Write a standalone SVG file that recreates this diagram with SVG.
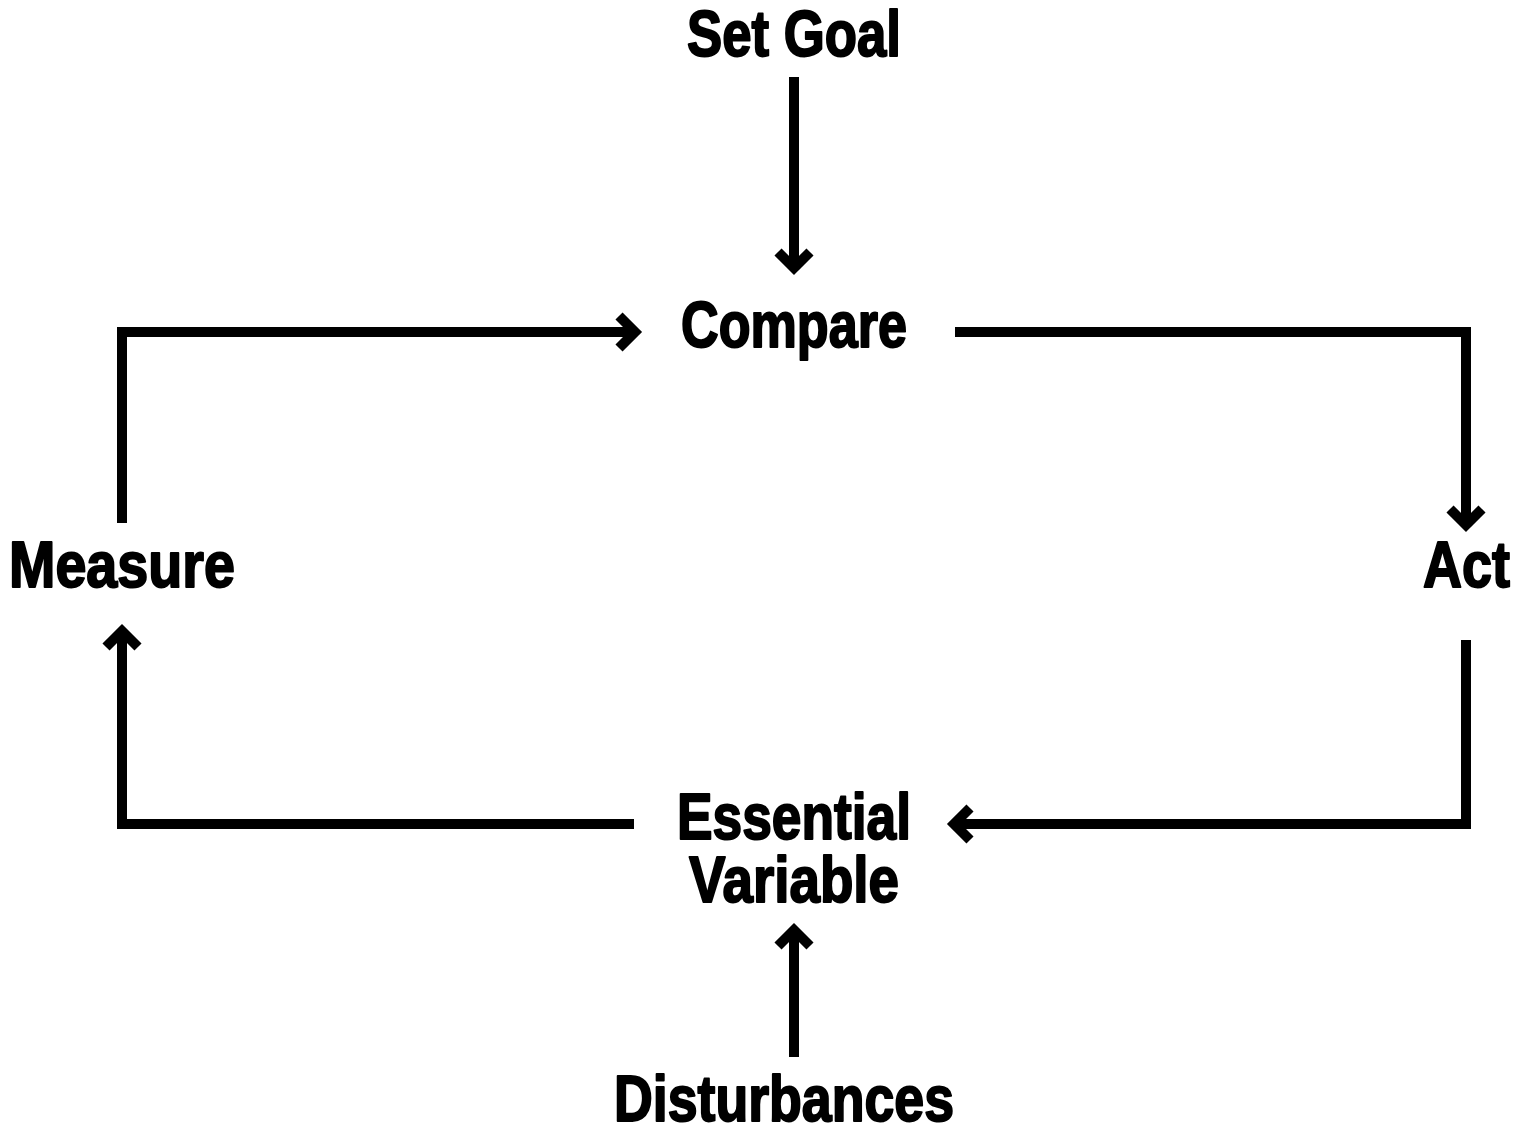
<svg xmlns="http://www.w3.org/2000/svg" width="1518" height="1129" viewBox="0 0 1518 1129">
  <style>
    .label { font-family: "Liberation Sans Narrow", "Liberation Sans", Arial, sans-serif; font-weight: bold; font-size: 64px; fill: #000; stroke: #000; stroke-width: 2; stroke-linejoin: round; }
    .wire { fill: none; stroke: #000; stroke-width: 10; stroke-linejoin: miter; stroke-linecap: butt; }
  </style>
  <defs>
    <!-- open chevron arrowhead, tip sits just past the path end -->
    <marker id="head" markerUnits="userSpaceOnUse" orient="auto" viewBox="-30 -25 40 50" refX="0" refY="0" markerWidth="40" markerHeight="50" overflow="visible">
      <path d="M -16 -16 L 0 0 L -16 16" fill="none" stroke="#000" stroke-width="10" stroke-linejoin="miter"/>
    </marker>
  </defs>

  <rect width="1518" height="1129" fill="#fff"/>

  <g id="connectors">
    <path class="wire" d="M 794 77 L 794 268" marker-end="url(#head)"/>
    <path class="wire" d="M 122 523 L 122 332 L 635 332" marker-end="url(#head)"/>
    <path class="wire" d="M 955 332 L 1466 332 L 1466 525" marker-end="url(#head)"/>
    <path class="wire" d="M 1466 640 L 1466 824 L 954 824" marker-end="url(#head)"/>
    <path class="wire" d="M 634 824 L 122 824 L 122 631" marker-end="url(#head)"/>
    <path class="wire" d="M 794 1057 L 794 930" marker-end="url(#head)"/>
  </g>

  <g id="set-goal"><text class="label" x="687" y="56" textLength="214" lengthAdjust="spacingAndGlyphs">Set Goal</text></g>
  <g id="compare"><text class="label" x="681" y="347" textLength="226" lengthAdjust="spacingAndGlyphs">Compare</text></g>
  <g id="measure"><text class="label" x="9" y="587" textLength="226" lengthAdjust="spacingAndGlyphs">Measure</text></g>
  <g id="act"><text class="label" x="1423" y="587" textLength="87" lengthAdjust="spacingAndGlyphs">Act</text></g>
  <g id="essential-variable">
    <text class="label" x="677" y="839" textLength="234" lengthAdjust="spacingAndGlyphs">Essential</text>
    <text class="label" x="689" y="902" textLength="210" lengthAdjust="spacingAndGlyphs">Variable</text>
  </g>
  <g id="disturbances"><text class="label" x="614" y="1121" textLength="340" lengthAdjust="spacingAndGlyphs">Disturbances</text></g>
</svg>
